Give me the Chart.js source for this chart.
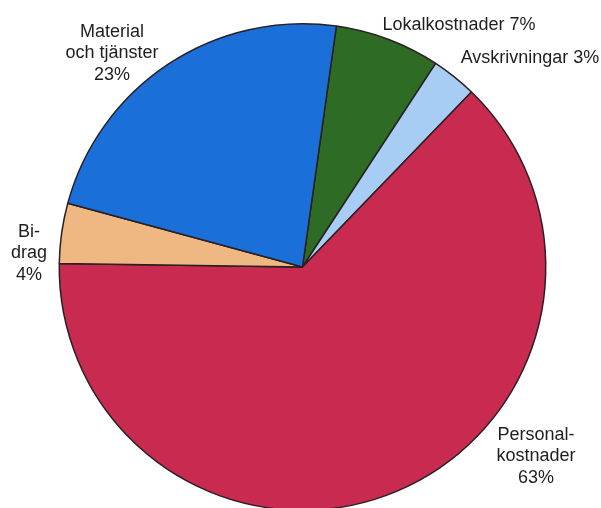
<!DOCTYPE html>
<html>
<head>
<meta charset="utf-8">
<script src="https://cdn.jsdelivr.net/npm/chart.js@4/dist/chart.umd.min.js"></script>
<style>
  html, body { margin: 0; padding: 0; background: #fff; overflow: hidden; width: 601px; height: 508px; }
  #wrap { position: absolute; left: 0; top: 0; }
</style>
</head>
<body>
<div id="wrap"><canvas id="pie" width="601" height="540"></canvas></div>
<script>
  // ---- data (clockwise from the top) ----
  const categories = ["Lokalkostnader", "Avskrivningar", "Personalkostnader", "Bidrag", "Material och tjänster"];
  const shares = [7, 3, 63, 4, 23];
  const labelLines = [
    ["Lokalkostnader 7%"],
    ["Avskrivningar 3%"],
    ["Personal-", "kostnader", "63%"],
    ["Bi-", "drag", "4%"],
    ["Material", "och tjänster", "23%"],
  ];

  // ---- look ----
  const colors = ["#2e6b24", "#a8cdf4", "#c92a4f", "#efb883", "#1a6fd8"];
  const labelPos = [[459, 25], [530, 58], [536, 435], [29, 232], [112, 32]];
  const lineH = 21.5;

  const labelPlugin = {
    id: "sliceLabels",
    afterDraw(chart) {
      const ctx = chart.ctx;
      ctx.save();
      ctx.font = "18px 'Liberation Sans', Arial, sans-serif";
      ctx.fillStyle = "#1e1e1e";
      ctx.textAlign = "center";
      ctx.textBaseline = "middle";
      labelLines.forEach((lines, i) => {
        const [x, y] = labelPos[i];
        lines.forEach((t, j) => ctx.fillText(t, x, y + j * lineH));
      });
      ctx.restore();
    },
  };

  new Chart(document.getElementById("pie").getContext("2d"), {
    type: "pie",
    data: {
      labels: categories,
      datasets: [{
        data: shares,
        backgroundColor: colors,
        borderColor: "#2a1f22",
        borderWidth: 1.5,
        hoverOffset: 0,
      }],
    },
    options: {
      responsive: false,
      animation: false,
      rotation: 8,
      layout: { padding: { left: 58.5, right: 54.5, top: 23, bottom: 29 } },
      plugins: { legend: { display: false }, tooltip: { enabled: false } },
    },
    plugins: [labelPlugin],
  });
</script>
</body>
</html>
